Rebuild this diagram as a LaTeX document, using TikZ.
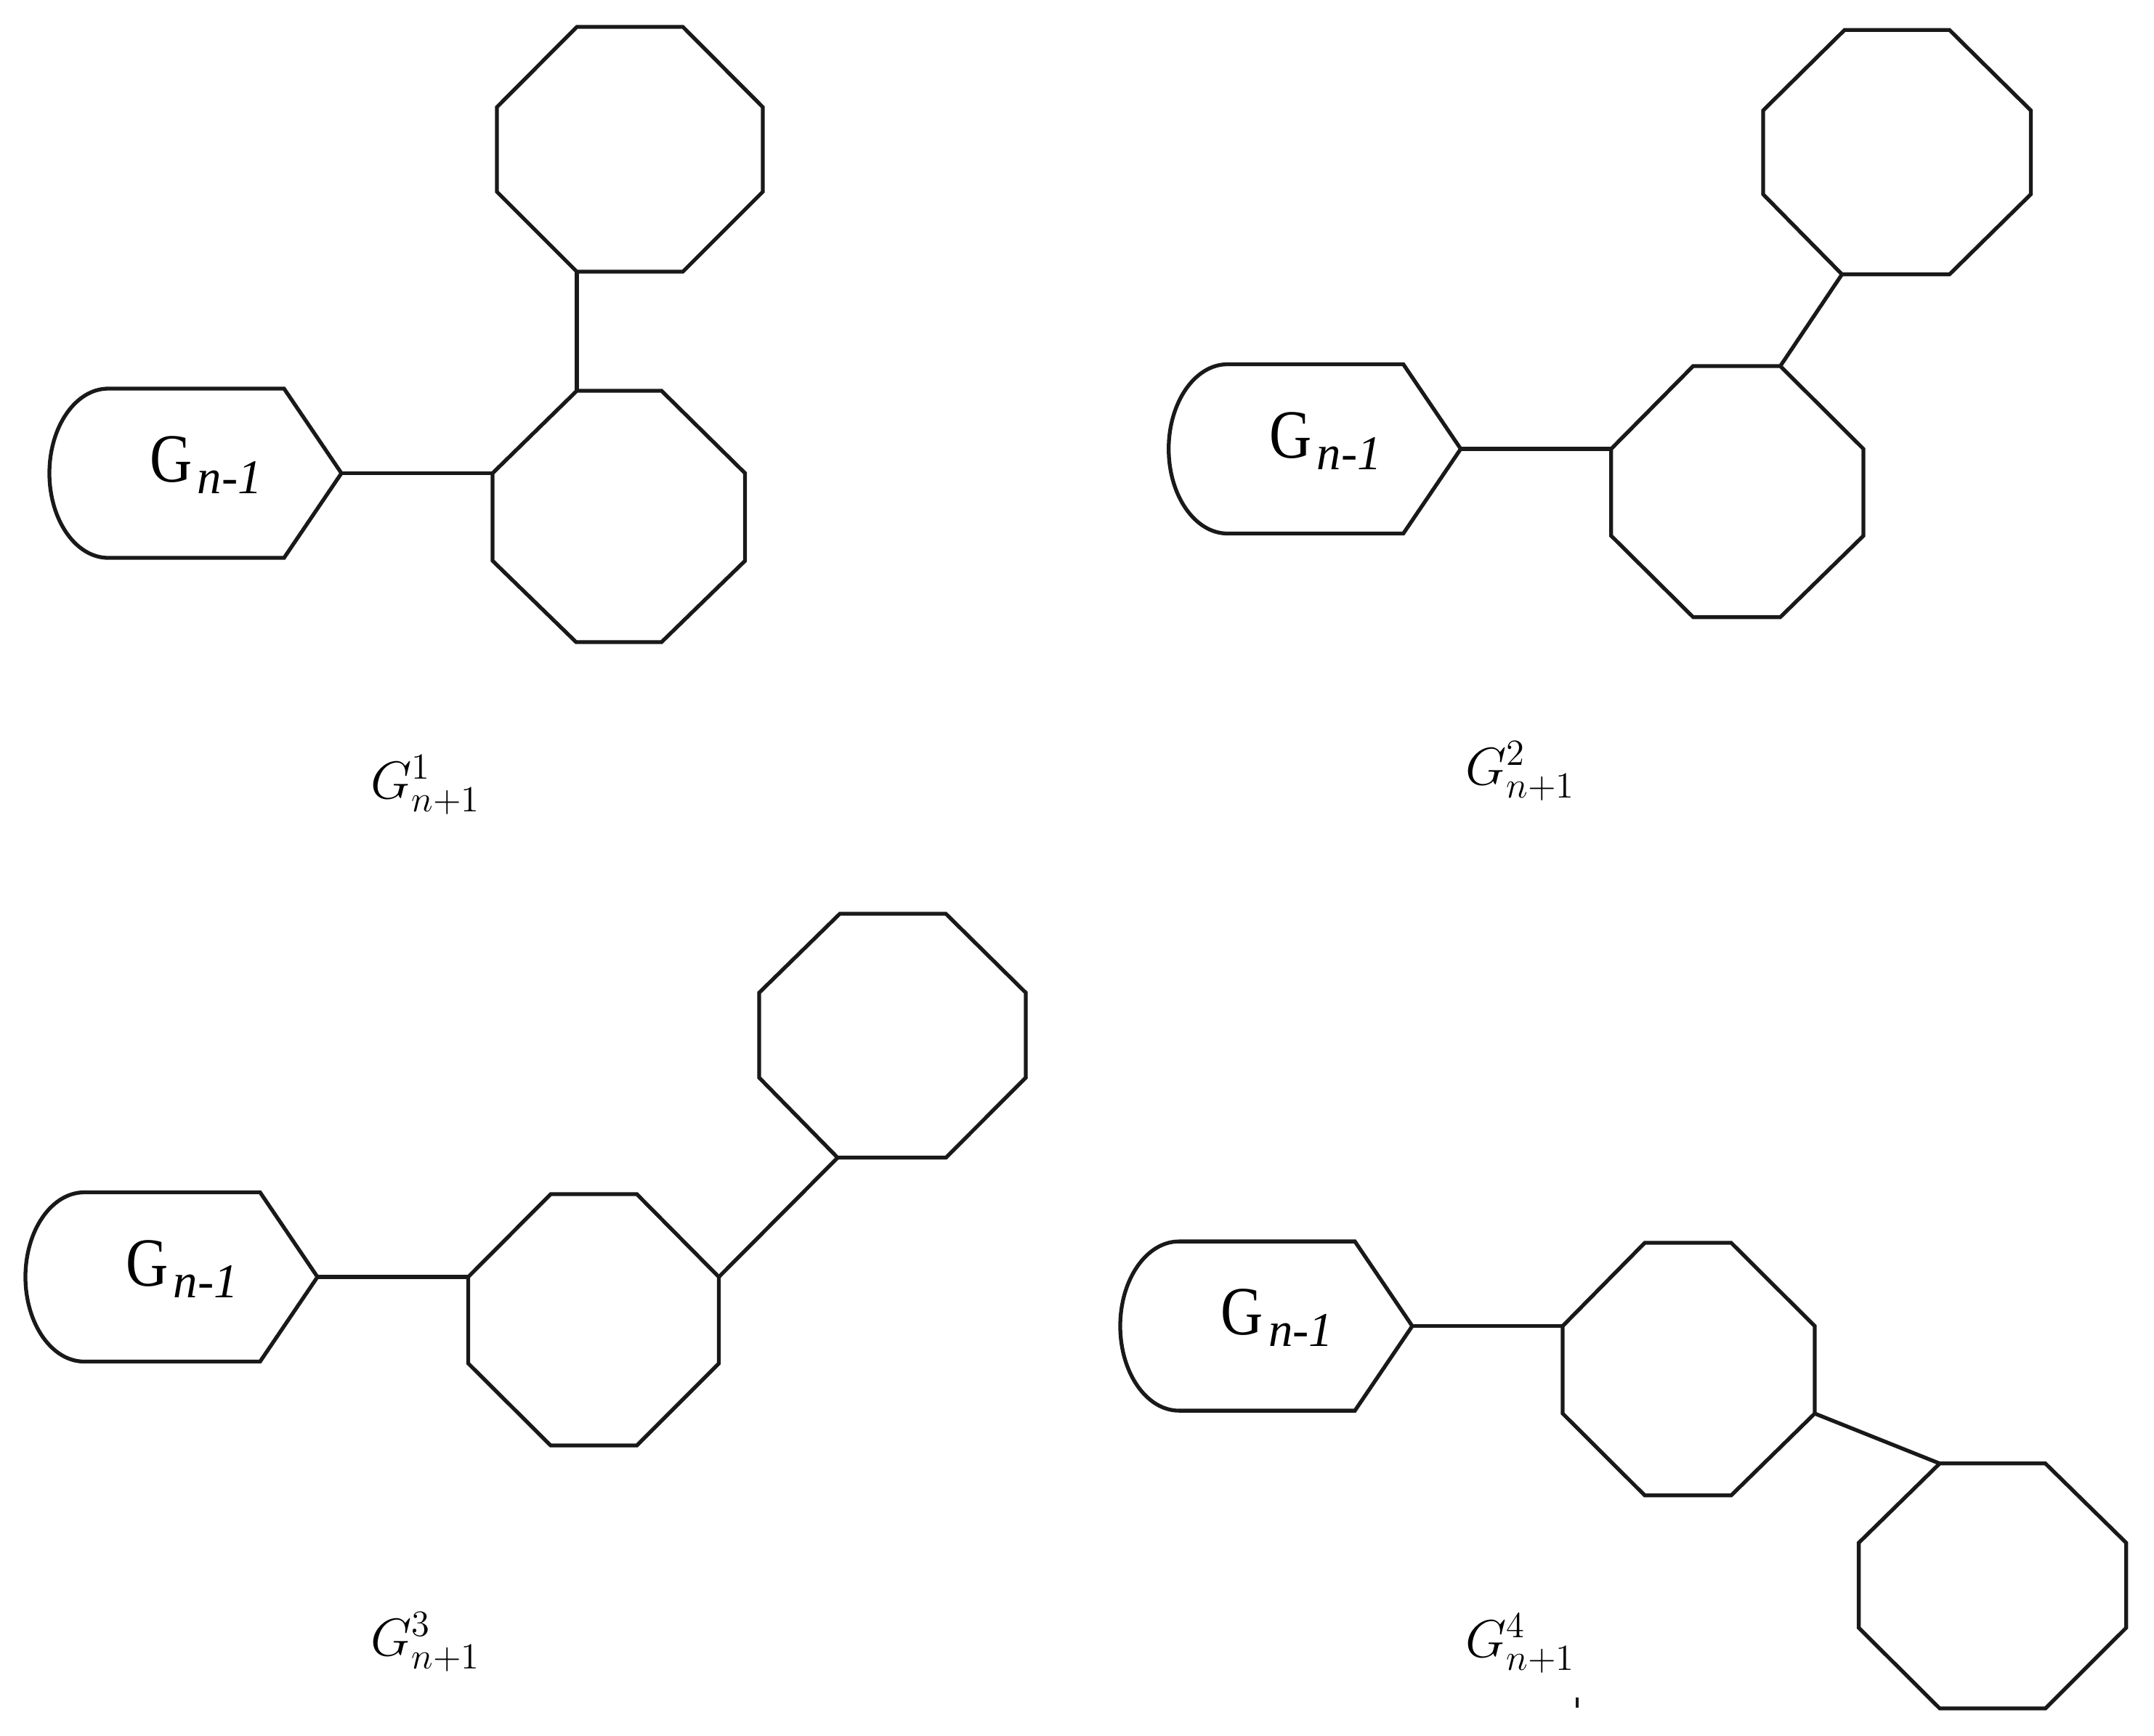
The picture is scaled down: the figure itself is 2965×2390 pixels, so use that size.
\documentclass[tikz,border=0pt]{standalone}
\usepackage{fontspec}
\newfontfamily\timesf{Liberation Serif}
\tikzset{
  oct/.style={draw=black!90, line width=1.5pt, line join=miter},
  link/.style={draw=black!90, line width=1.5pt},
  boxline/.style={draw=black!90, line width=1.5pt, line join=miter},
  glab/.style={inner sep=0pt, anchor=base west},
  mlab/.style={inner sep=0pt, anchor=base, font=\fontsize{22}{26}\selectfont},
  gbox/.pic={
    \draw[boxline] (81,-116.5) -- (323,-116.5) -- (402,0) coordinate (-tip) -- (323,116.5) -- (81,116.5)
      .. controls (36.3,116.5) and (0,64.3) .. (0,0)
      .. controls (0,-64.3) and (36.3,-116.5) .. (81,-116.5) -- cycle;
    \node[glab] (-lab) at (138,12) {{\timesf\fontsize{27}{30}\selectfont\scalebox{0.85}[1]{G}}\hspace{0.07cm}{\timesf\itshape\fontsize{19}{22}\selectfont\raisebox{-0.16cm}{n-1}}};
  }
}
\begin{document}
\begin{tikzpicture}[x=0.01cm, y=-0.01cm]
\useasboundingbox (0,0) rectangle (2965,2390);

% ---------- Panel 1 ----------
\coordinate (t1-bl) at (794,374);
\coordinate (b1-tl) at (794,538);
\coordinate (b1-lt) at (678,651.5);
\draw[oct] (794,37) -- (940,37) -- (1050,147.5) -- (1050,264) -- (940,374) -- (t1-bl) -- (684,264) -- (684,147.5) -- cycle;
\draw[oct] (b1-tl) -- (910.6,538) -- (1025.6,651.5) -- (1025.6,772) -- (910.6,884) -- (793,884) -- (678,772) -- (b1-lt) -- cycle;
\pic (g1) at (68,651.5) {gbox};
\draw[link] (g1-tip) -- (b1-lt);
\draw[link] (t1-bl) -- (b1-tl);
\node[mlab] (lab1) at (586,1099) {$G^{1}_{n+1}$};

% ---------- Panel 2 ----------
\coordinate (t2-bl) at (2535.5,377.7);
\coordinate (a2-tr) at (2450.6,504);
\coordinate (a2-lt) at (2217.8,618);
\draw[oct] (2539,41.3) -- (2683.5,41.3) -- (2795.4,152) -- (2795.4,267.5) -- (2683.5,377.7) -- (t2-bl) -- (2427,267.5) -- (2427,152) -- cycle;
\draw[oct] (2330.6,504) -- (a2-tr) -- (2565,618) -- (2565,737.6) -- (2450.6,849.6) -- (2330.6,849.6) -- (2217.8,737.6) -- (a2-lt) -- cycle;
\pic (g2) at (1608.7,618) {gbox};
\draw[link] (g2-tip) -- (a2-lt);
\draw[link] (a2-tr) -- (t2-bl);
\node[mlab] (lab2) at (2093,1080) {$G^{2}_{n+1}$};

% ---------- Panel 3 ----------
\coordinate (t3-bl) at (1153,1593.8);
\coordinate (b3-rt) at (989.5,1758);
\coordinate (b3-lt) at (644.5,1758);
\draw[oct] (1156,1258) -- (1302,1258) -- (1412,1366.7) -- (1412,1483.6) -- (1302,1593.8) -- (t3-bl) -- (1045,1483.6) -- (1045,1366.7) -- cycle;
\draw[oct] (758,1644) -- (876.6,1644) -- (b3-rt) -- (989.5,1877) -- (876.6,1990) -- (758,1990) -- (644.5,1877) -- (b3-lt) -- cycle;
\pic (g3) at (35,1758) {gbox};
\draw[link] (g3-tip) -- (b3-lt);
\draw[link] (b3-rt) -- (t3-bl);
\node[mlab] (lab3) at (586,2279) {$G^{3}_{n+1}$};

% ---------- Panel 4 ----------
\coordinate (c4-lt) at (2151,1825.6);
\coordinate (c4-rb) at (2498,1946);
\coordinate (d4-tl) at (2670,2014.8);
\draw[oct] (2264,1711) -- (2383,1711) -- (2498,1825.6) -- (c4-rb) -- (2383,2058.7) -- (2264,2058.7) -- (2151,1946) -- (c4-lt) -- cycle;
\draw[oct] (d4-tl) -- (2815.5,2014.8) -- (2926.7,2124) -- (2926.7,2241) -- (2815.5,2352) -- (2670,2352) -- (2558.6,2241) -- (2558.6,2124) -- cycle;
\pic (g4) at (1542,1825.6) {gbox};
\draw[link] (g4-tip) -- (c4-lt);
\draw[link] (c4-rb) -- (d4-tl);
\node[mlab] (lab4) at (2093,2281) {$G^{4}_{n+1}$};
\draw[black!90, line width=1pt] (2171,2337) -- (2171,2351);
\end{tikzpicture}
\end{document}
